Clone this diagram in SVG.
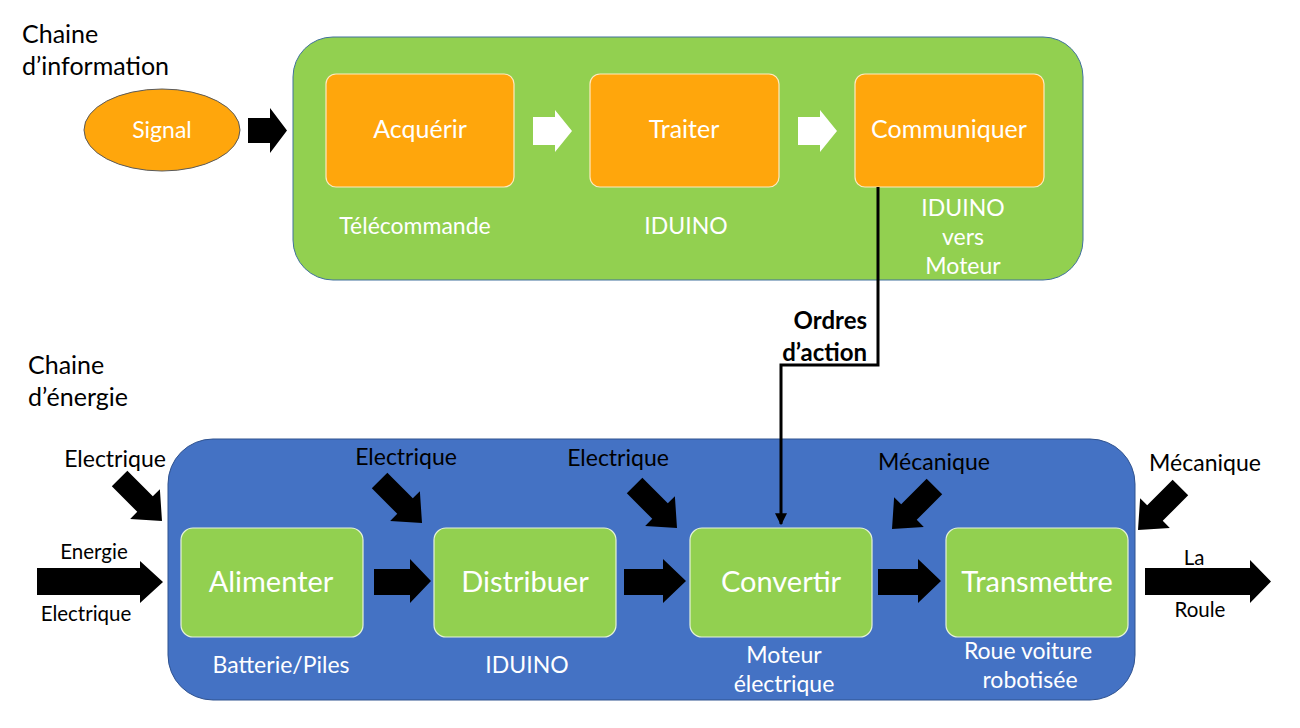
<svg xmlns="http://www.w3.org/2000/svg" width="1300" height="728" viewBox="0 0 1300 728">
<defs>
<style>
text{font-family:Lato,"Open Sans","Liberation Sans",sans-serif}
.t{fill:#000;font-size:25px}
.lb{fill:#000;font-size:23px;text-anchor:middle}
.sm{font-size:20.5px}
.w{fill:#fff;text-anchor:middle}
.ob{fill:#FFA60C;stroke:#FFE9C0;stroke-width:1.2}
.gb{fill:#92D050;stroke:#E6F3D8;stroke-width:1.2}
.blk{fill:#000}
</style>
<path id="diag" d="M-60,-11 L-24,-11 L-24,-21 L0,0 L-24,21 L-24,11 L-60,11 Z"/>
<marker id="ah" viewBox="0 0 10 10" refX="9" refY="5" markerWidth="4" markerHeight="4" orient="auto" markerUnits="strokeWidth">
<path d="M0,0 L10,5 L0,10 Z" fill="#000"/>
</marker>
</defs>
<rect width="1300" height="728" fill="#fff"/>

<text class="t" x="22" y="43">Chaine</text>
<text class="t" x="22" y="75">d’information</text>
<text class="t" x="28" y="374">Chaine</text>
<text class="t" x="28" y="406">d’énergie</text>

<g id="info-chain">
<rect x="293" y="37" width="790" height="243" rx="40" fill="#92D050" stroke="#41719C" stroke-width="1"/>
</g>
<g id="energy-chain">
<rect x="168" y="439" width="967" height="261" rx="45" fill="#4472C4" stroke="#2F528F" stroke-width="1"/>
</g>

<g id="signal">
<ellipse cx="162" cy="130" rx="78" ry="41" fill="#FFA60C" stroke="#5A5A5A" stroke-width="1"/>
<text class="w" x="162" y="138" font-size="23">Signal</text>
</g>
<g id="acquerir">
<rect class="ob" x="326" y="74" width="188" height="113" rx="10"/>
<text class="w" x="420" y="138" font-size="25">Acquérir</text>
<text class="w" x="415" y="234" font-size="23">Télécommande</text>
</g>
<g id="traiter">
<rect class="ob" x="590" y="74" width="189" height="113" rx="10"/>
<text class="w" x="684" y="138" font-size="25">Traiter</text>
<text class="w" x="686" y="234" font-size="23">IDUINO</text>
</g>
<g id="communiquer">
<rect class="ob" x="855" y="74" width="189" height="113" rx="10"/>
<text class="w" x="949" y="138" font-size="25">Communiquer</text>
<text class="w" x="963" y="216" font-size="23">IDUINO</text>
<text class="w" x="963" y="245" font-size="23">vers</text>
<text class="w" x="963" y="274" font-size="23">Moteur</text>
</g>

<g id="alimenter">
<rect class="gb" x="181" y="528" width="182" height="109" rx="12"/>
<text class="w" x="271" y="592" font-size="29">Alimenter</text>
<text class="w" x="281" y="673" font-size="23">Batterie/Piles</text>
</g>
<g id="distribuer">
<rect class="gb" x="434" y="528" width="182" height="109" rx="12"/>
<text class="w" x="525" y="592" font-size="29">Distribuer</text>
<text class="w" x="527" y="673" font-size="23">IDUINO</text>
</g>
<g id="convertir">
<rect class="gb" x="690" y="528" width="182" height="109" rx="12"/>
<text class="w" x="781" y="592" font-size="29">Convertir</text>
<text class="w" x="784" y="663" font-size="23">Moteur</text>
<text class="w" x="784" y="692" font-size="23">électrique</text>
</g>
<g id="transmettre">
<rect class="gb" x="946" y="528" width="182" height="109" rx="12"/>
<text class="w" x="1037" y="592" font-size="29">Transmettre</text>
<text class="w" x="1028" y="659" font-size="23">Roue voiture</text>
<text class="w" x="1030" y="688" font-size="23">robotisée</text>
</g>

<g id="connectors">
<path class="blk" d="M248,118 L270,118 L270,108 L287,130.5 L270,153 L270,143 L248,143 Z"/>
<path fill="#fff" d="M533,117 L555,117 L555,110 L572,131 L555,152 L555,145 L533,145 Z"/>
<path fill="#fff" d="M798,117 L820,117 L820,110 L837,131 L820,152 L820,145 L798,145 Z"/>

<path class="blk" d="M37,568 L140,568 L140,561 L163,582 L140,603 L140,595 L37,595 Z"/>
<path class="blk" d="M374,569 L410,569 L410,559 L431,581 L410,603 L410,595 L374,595 Z"/>
<path class="blk" d="M624,569 L663,569 L663,559 L686,581 L663,603 L663,595 L624,595 Z"/>
<path class="blk" d="M878,569 L918,569 L918,559 L941,581 L918,603 L918,595 L878,595 Z"/>
<path class="blk" d="M1145,568 L1250,568 L1250,560 L1271,581.5 L1250,603 L1250,595 L1145,595 Z"/>

<use href="#diag" transform="translate(162,521) rotate(45)"/>
<use href="#diag" transform="translate(422,523) rotate(45)"/>
<use href="#diag" transform="translate(677,528) rotate(45)"/>
<use href="#diag" transform="translate(892,529) rotate(135)"/>
<use href="#diag" transform="translate(1138,530) rotate(135)"/>

<polyline points="878,187 878,365 781,365 781,524" fill="none" stroke="#000" stroke-width="3" marker-end="url(#ah)"/>
<text x="867" y="329" font-size="24" font-weight="bold" text-anchor="end">Ordres</text>
<text x="867" y="361" font-size="24" font-weight="bold" text-anchor="end">d’action</text>

<text class="lb" x="115" y="467">Electrique</text>
<text class="lb" x="406" y="465">Electrique</text>
<text class="lb" x="618" y="466">Electrique</text>
<text class="lb" x="934" y="470">Mécanique</text>
<text class="lb" x="1205" y="471">Mécanique</text>
<text class="lb sm" x="94" y="559">Energie</text>
<text class="lb sm" x="86" y="621">Electrique</text>
<text class="lb sm" x="1194" y="565">La</text>
<text class="lb sm" x="1200" y="617">Roule</text>
</g>
</svg>
